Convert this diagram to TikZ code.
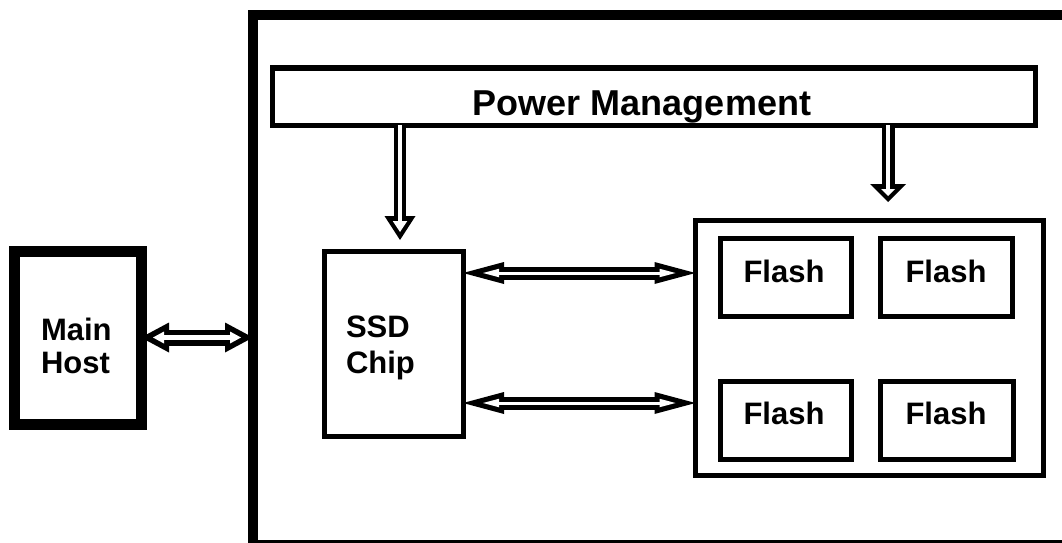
\documentclass[tikz,border=0pt]{standalone}
\usepackage{fontspec}
\setmainfont{Liberation Sans}
\usetikzlibrary{arrows.meta,calc}
\tikzset{
  box/.style={draw=black, fill=white, inner sep=0pt, outer sep=0pt, anchor=north west},
  lbl/.style={font=\fontsize{31}{35}\selectfont\bfseries, inner sep=0pt, outer sep=0pt},
  dblarrow/.style n args={7}{draw=black, line width=#1,
    arrows={Triangle[length=#2,width=#3,line width=0pt]-Triangle[length=#2,width=#3,line width=0pt]},
    postaction={draw=white, line width=#4, shorten <=#7, shorten >=#7,
      arrows={Triangle[length=#5,width=#6,line width=0pt]-Triangle[length=#5,width=#6,line width=0pt]}}},
  sglarrow/.style n args={7}{draw=black, line width=#1,
    arrows={-Triangle[length=#2,width=#3,line width=0pt]},
    postaction={draw=white, line width=#4, shorten <=0pt, shorten >=#7,
      arrows={-Triangle[length=#5,width=#6,line width=0pt]}}},
}
\begin{document}
\begin{tikzpicture}[x=1pt,y=-1pt]
\useasboundingbox (0,0) rectangle (1062,543);
% boxes (border centre lines)
\node[box, line width=10pt, minimum width=822pt, minimum height=530pt] (big) at (253,15) {};
\node[box, line width=11pt, minimum width=127pt, minimum height=173pt] (host) at (14,251) {};
\node[box, line width=5pt, minimum width=763pt, minimum height=57pt] (pm) at (272,68) {};
\node[box, line width=5pt, minimum width=139pt, minimum height=185pt] (ssd) at (324,251) {};
\node[box, line width=5pt, minimum width=347.5pt, minimum height=255pt] (fl) at (695.5,220) {};
\node[box, line width=5pt, minimum width=131pt, minimum height=78pt] (f1) at (720,238) {};
\node[box, line width=5pt, minimum width=132pt, minimum height=78pt] (f2) at (880,238) {};
\node[box, line width=5pt, minimum width=131pt, minimum height=78pt] (f3) at (720,381) {};
\node[box, line width=5pt, minimum width=133pt, minimum height=78pt] (f4) at (880,381) {};
% labels
\node[lbl, font=\fontsize{36}{40}\selectfont\bfseries, anchor=base] (pmt) at (642,115) {Power Management};
\node[lbl, anchor=base west, align=left] (hostt) at (41,373) {Main\\[-2pt]Host};
\node[lbl, anchor=base west, align=left] (ssdt) at (346,373) {SSD\\[1pt]Chip};
\node[lbl, anchor=base] (f1t) at (784,282) {Flash};
\node[lbl, anchor=base] (f2t) at (946,282) {Flash};
\node[lbl, anchor=base] (f3t) at (784,424) {Flash};
\node[lbl, anchor=base] (f4t) at (946,424) {Flash};
% connectors
\coordinate (r1) at (0,273);
\coordinate (r2) at (0,403);
\coordinate (c1) at (400,240);
\coordinate (c2) at (888,202);
\draw[dblarrow={16pt}{28pt}{30pt}{5pt}{11pt}{12pt}{12pt}] (host.east) -- (host.east -| big.west);
\draw[dblarrow={13pt}{41pt}{22pt}{3pt}{16pt}{8.5pt}{20pt}] (ssd.east |- r1) -- (fl.west |- r1);
\draw[dblarrow={13pt}{41pt}{22pt}{3pt}{16pt}{8.5pt}{20pt}] (ssd.east |- r2) -- (fl.west |- r2);
\draw[sglarrow={12pt}{24pt}{31pt}{3.5pt}{11pt}{14.5pt}{8pt}] (pm.south -| c1) -- (c1);
\draw[sglarrow={13pt}{18pt}{36pt}{3.5pt}{7pt}{14pt}{6pt}] (pm.south -| c2) -- (c2);
\end{tikzpicture}
\end{document}
